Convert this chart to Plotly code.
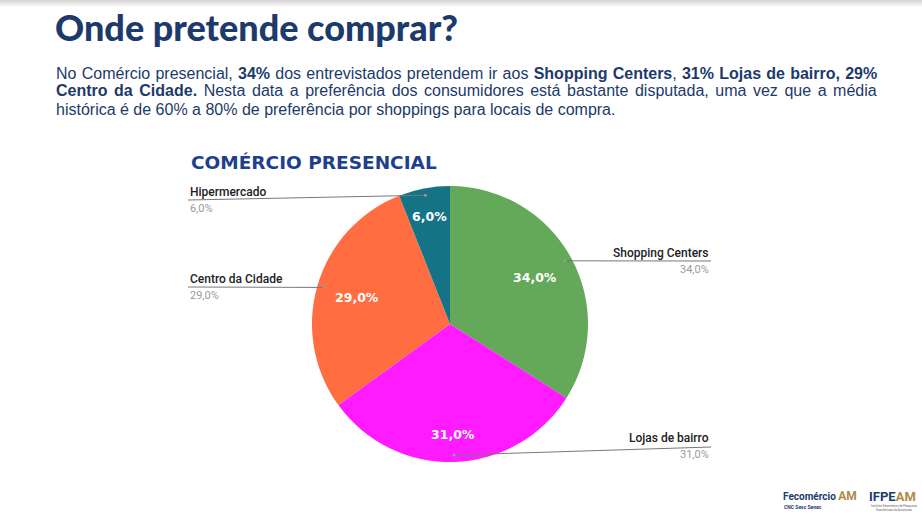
import math
import plotly.graph_objects as go

# data
labels = ["Shopping Centers", "Lojas de bairro", "Centro da Cidade", "Hipermercado"]
values = [34.0, 31.0, 29.0, 6.0]
pct_text = ["34,0%", "31,0%", "29,0%", "6,0%"]
colors = ["#64a85a", "#ff1aff", "#ff6d40", "#147385"]

W, H = 922, 526
CX, CY, R = 450, 324, 138  # pie centre / radius in px


def px(x):
    return x / W


def py(y):
    return 1 - y / H


fig = go.Figure()
fig.add_trace(go.Pie(
    labels=labels, values=values, sort=False, direction="clockwise",
    marker=dict(colors=colors, line=dict(width=0)),
    textinfo="none", hoverinfo="label+percent", showlegend=False,
    domain=dict(x=[px(CX - R), px(CX + R)], y=[py(CY + R), py(CY - R)]),
))

# angles of slice midpoints (clockwise from 12 o'clock)
total = sum(values)
mids = []
acc = 0
for v in values:
    mids.append((acc + v / 2) / total * 2 * math.pi)
    acc += v

ann = []
shapes = []

# percentage labels inside slices (radius fraction per slice, as google places them)
inner_r = [0.70, 0.80, 0.70, 0.79]
for a, t, f in zip(mids, pct_text, inner_r):
    r = f * R
    ann.append(dict(x=px(CX + r * math.sin(a)), y=py(CY - r * math.cos(a)),
                    text="<b>%s</b>" % t, showarrow=False, xanchor="center", yanchor="middle",
                    font=dict(family="DejaVu Sans", size=12.5, color="white")))

# outside labels with leader lines: (text x, side, label y, line y)
label_pos = [(711, "right", 253, 261), (711, "right", 438, 447),
             (188, "left", 279, 287), (188, "left", 192, 200)]
for a, name, t, (lx, side, ly, lly) in zip(mids, labels, pct_text, label_pos):
    r = 0.95 * R
    dx, dy = CX + r * math.sin(a), CY - r * math.cos(a)
    shapes.append(dict(type="line", xref="paper", yref="paper",
                       x0=px(dx), y0=py(dy), x1=px(lx), y1=py(lly),
                       line=dict(color="#777777", width=1)))
    shapes.append(dict(type="circle", xref="paper", yref="paper",
                       x0=px(dx - 1.5), x1=px(dx + 1.5), y0=py(dy - 1.5), y1=py(dy + 1.5),
                       fillcolor="#999999", line=dict(width=0)))
    ann.append(dict(x=px(lx), y=py(ly), text=name, showarrow=False,
                    xanchor=side, yanchor="middle",
                    font=dict(family="Roboto", size=12, color="#222222", weight=500)))
    ann.append(dict(x=px(lx), y=py(ly + 16), text=t, showarrow=False,
                    xanchor=side, yanchor="middle",
                    font=dict(family="Roboto", size=11, color="#9a9a9a")))

# titles and text
ann.append(dict(x=px(53), y=py(27), text="Onde pretende comprar?", showarrow=False,
                xanchor="left", yanchor="middle",
                font=dict(family="Lato", size=36, color="#1c3a6b", weight=900)))
para_lines = [
    "No Comércio presencial, <b>34%</b> dos entrevistados pretendem ir aos <b>Shopping Centers</b>, "
    "<b>31% Lojas de bairro, 29%</b>",
    "<b>Centro da Cidade.</b> Nesta data a preferência dos consumidores "
    "está bastante disputada, uma vez que a média",
    "histórica é de 60% a 80% de preferência por shoppings para locais de compra.",
]
word_gap = [0.8, 2.1, 0]  # justified text: extra space between words
for i, line in enumerate(para_lines):
    txt = "<span style='word-spacing:%.1fpx'>%s</span>" % (word_gap[i], line)
    ann.append(dict(x=px(54), y=py(73 + 18 * i), text=txt, showarrow=False,
                    xanchor="left", yanchor="middle",
                    font=dict(family="Liberation Sans", size=16, color="#1c3a6b")))
ann.append(dict(x=px(189), y=py(163), text="<b>COMÉRCIO PRESENCIAL</b>", showarrow=False,
                xanchor="left", yanchor="middle",
                font=dict(family="DejaVu Sans", size=18.5, color="#1d3f8c")))

# logos (as text)
ann.append(dict(x=px(781), y=py(496),
                text="Fecomércio <span style='color:#b08a4a;font-size:12px'>AM</span>",
                showarrow=False, xanchor="left", yanchor="middle",
                font=dict(family="Roboto", size=10, color="#1c3a6b", weight=700)))
ann.append(dict(x=px(782), y=py(507), text="CNC Sesc Senac", showarrow=False,
                xanchor="left", yanchor="middle",
                font=dict(family="Roboto", size=5, color="#1c3a6b", weight=700)))
ann.append(dict(x=px(867), y=py(496), text="IFPE<span style='color:#b08a4a'>AM</span>",
                showarrow=False, xanchor="left", yanchor="middle",
                font=dict(family="Roboto", size=13, color="#1c3a6b", weight=700)))
ann.append(dict(x=px(869), y=py(508), text="Instituto Fecomércio de Pesquisas<br>Econômicas do Amazonas",
                showarrow=False, xanchor="left", yanchor="middle",
                font=dict(family="Roboto", size=3, color="#666666")))

# top shadow
for i, c in enumerate(["#d8d8d8", "#e6e6e6", "#f1f1f1"]):
    shapes.append(dict(type="rect", xref="paper", yref="paper", x0=0, x1=1,
                       y0=py(2 * (i + 1)), y1=py(2 * i), fillcolor=c, line=dict(width=0),
                       layer="below"))

fig.update_layout(width=W, height=H, margin=dict(l=0, r=0, t=0, b=0),
                  paper_bgcolor="white", plot_bgcolor="white",
                  annotations=ann, shapes=shapes)

fig.write_html("out.html", config={"displayModeBar": False},
               post_script="document.body.style.margin='0';")
